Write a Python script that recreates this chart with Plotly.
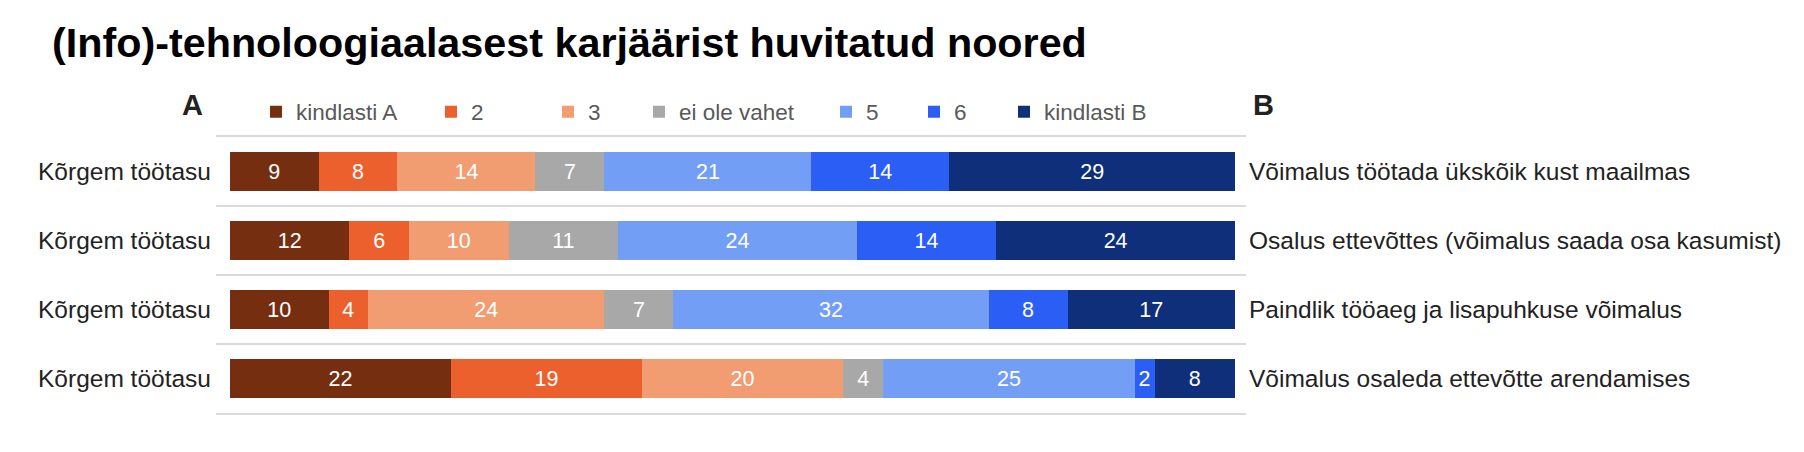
import plotly.graph_objects as go

title_text = "(Info)-tehnoloogiaalasest karjäärist huvitatud noored"

left_labels = ["Kõrgem töötasu", "Kõrgem töötasu", "Kõrgem töötasu", "Kõrgem töötasu"]
right_labels = [
    "Võimalus töötada ükskõik kust maailmas",
    "Osalus ettevõttes (võimalus saada osa kasumist)",
    "Paindlik tööaeg ja lisapuhkuse võimalus",
    "Võimalus osaleda ettevõtte arendamises",
]

series_names = ["kindlasti A", "2", "3", "ei ole vahet", "5", "6", "kindlasti B"]
kindlasti_A = [9, 12, 10, 22]
s2 = [8, 6, 4, 19]
s3 = [14, 10, 24, 20]
ei_ole_vahet = [7, 11, 7, 4]
s5 = [21, 24, 32, 25]
s6 = [14, 14, 8, 2]
kindlasti_B = [29, 24, 17, 8]
series_values = [kindlasti_A, s2, s3, ei_ole_vahet, s5, s6, kindlasti_B]
series_colors = ["#762E11", "#EC602D", "#F19C71", "#A8A8A8", "#729EF5", "#2A5EF5", "#0F2F7B"]

W, H = 1804, 452
plot_l, plot_r = 216, 1246
plot_t, plot_b = 137, 413
pw = plot_r - plot_l
ph = plot_b - plot_t

def px_x(p):
    return (p - plot_l) / pw

def px_y(p):
    return (plot_b - p) / ph

# legend square left positions (px) from reference
legend_px = [275, 450, 567, 658, 845, 933, 1023]

FONT = "Liberation Sans, Arial, sans-serif"
GRID = "#DADADA"

fig = go.Figure()
legend_names = ["legend"] + [f"legend{i}" for i in range(2, 8)]
for i, (name, vals, col) in enumerate(zip(series_names, series_values, series_colors)):
    fig.add_trace(go.Bar(
        name=name,
        y=right_labels,
        x=vals,
        orientation="h",
        marker=dict(color=col, line=dict(width=0)),
        text=[str(v) for v in vals],
        textposition="inside",
        insidetextanchor="middle",
        textangle=0,
        insidetextfont=dict(color="white", size=21.5, family=FONT),
        legend=legend_names[i],
        hoverinfo="name+x",
    ))

# invisible trace to hold right-hand category axis
fig.add_trace(go.Scatter(
    y=right_labels, x=[None] * len(right_labels), yaxis="y2",
    mode="markers", showlegend=False, hoverinfo="skip",
))

layout_legends = {}
for i, ln in enumerate(legend_names):
    layout_legends[ln] = dict(
        orientation="h",
        xref="container", yref="container",
        x=(legend_px[i] - 19) / W,
        xanchor="left",
        y=1 - 112 / H,
        yanchor="middle",
        font=dict(size=22.5, color="#595959", family=FONT),
        bgcolor="rgba(0,0,0,0)",
        borderwidth=0,
        traceorder="normal",
    )

fig.update_layout(
    width=W, height=H,
    template="plotly_white",
    margin=dict(l=plot_l, r=W - plot_r, t=plot_t, b=H - plot_b, pad=0, autoexpand=False),
    paper_bgcolor="white",
    plot_bgcolor="white",
    barmode="stack",
    barnorm="percent",
    bargap=0.445,
    font=dict(family=FONT, color="#222222"),
    title=dict(
        text=title_text,
        x=52 / W, xanchor="left", xref="container",
        y=1 - 43 / H, yanchor="middle", yref="container",
        font=dict(size=41.3, color="black", family=FONT, weight="bold"),
    ),
    xaxis=dict(
        range=[-1.39, 101.09],
        showticklabels=False, showgrid=False, zeroline=False,
        showline=True, mirror=True, linecolor=GRID, linewidth=2,
        fixedrange=True, automargin=False,
    ),
    yaxis=dict(
        type="category",
        categoryorder="array",
        categoryarray=right_labels,
        range=[3.5, -0.5],
        tickmode="array",
        tickvals=right_labels,
        ticktext=left_labels,
        tickson="boundaries",
        ticks="",
        showgrid=True,
        gridcolor=GRID,
        gridwidth=2,
        showline=False,
        zeroline=False,
        automargin=False,
        tickfont=dict(size=24.5, color="#222222", family=FONT),
        ticklabelstandoff=4,
    ),
    yaxis2=dict(
        type="category",
        categoryorder="array",
        categoryarray=right_labels,
        range=[3.5, -0.5],
        overlaying="y",
        side="right",
        anchor="x",
        ticks="",
        showgrid=False,
        showline=False,
        zeroline=False,
        automargin=False,
        tickfont=dict(size=24.5, color="#222222", family=FONT),
        ticklabelstandoff=2,
    ),
    annotations=[
        dict(text="<b>A</b>", xref="paper", yref="paper", x=px_x(192), y=px_y(104.5),
             xanchor="center", yanchor="middle", showarrow=False,
             font=dict(size=29, color="#222222", family=FONT)),
        dict(text="<b>B</b>", xref="paper", yref="paper", x=px_x(1263.5), y=px_y(104.5),
             xanchor="center", yanchor="middle", showarrow=False,
             font=dict(size=29, color="#222222", family=FONT)),
    ],
    **layout_legends,
)

fig.write_html(
    "out.html",
    config={"displayModeBar": False},
    post_script="document.body.style.margin='0px';document.body.style.overflow='hidden';",
)
